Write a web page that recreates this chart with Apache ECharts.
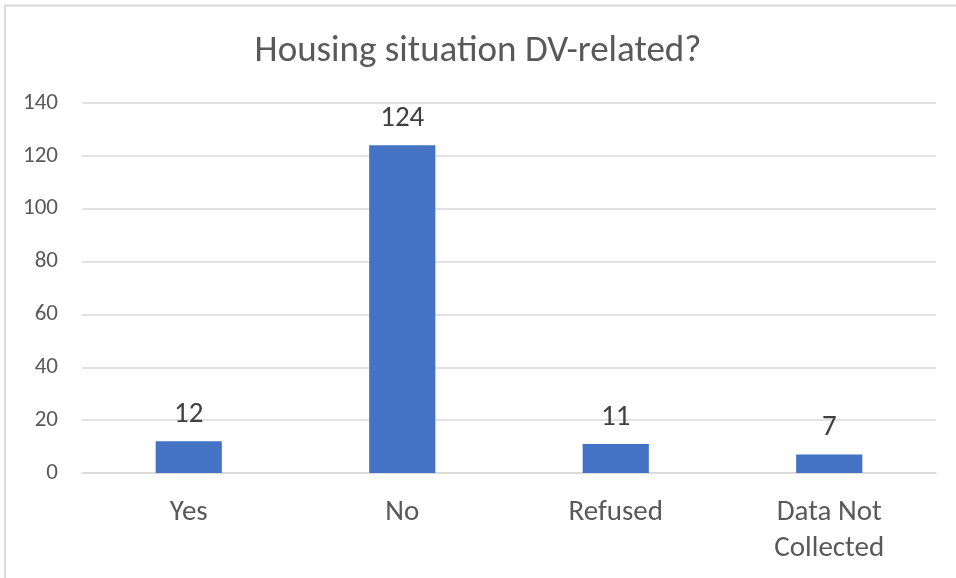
<!DOCTYPE html>
<html>
<head>
<meta charset="utf-8">
<script src="https://cdn.jsdelivr.net/npm/echarts@6/dist/echarts.min.js"></script>
<style>
  html, body { margin: 0; padding: 0; background: #fff; }
  #chart { width: 956px; height: 578px; }
</style>
</head>
<body>
<div id="chart"></div>
<script>
var categories = ['Yes', 'No', 'Refused', 'Data Not\nCollected'];
var counts = [12, 124, 11, 7];
var yTicks = { min: 0, max: 140, interval: 20 };

var myChart = echarts.init(document.getElementById('chart'));
var font = 'Calibri, Carlito, Lato, "Open Sans", sans-serif';
var option = {
  animation: false,
  textStyle: { fontFamily: font },
  title: {
    text: 'Housing situation DV-related?',
    left: 'center',
    top: 28,
    textStyle: { color: '#595959', fontSize: 37, fontWeight: 'normal', fontFamily: font }
  },
  graphic: [{
    type: 'rect',
    shape: { x: 5, y: 5.5, width: 1000, height: 1000 },
    style: { fill: 'none', stroke: '#d9d9d9', lineWidth: 2 },
    silent: true
  }],
  grid: { left: 82, right: 20, top: 103, bottom: 105 },
  xAxis: {
    type: 'category',
    data: categories,
    axisLine: { lineStyle: { color: '#d9d9d9', width: 1.5 } },
    axisTick: { show: false },
    axisLabel: { color: '#595959', fontSize: 29, margin: 22, lineHeight: 36, fontFamily: font }
  },
  yAxis: {
    type: 'value',
    min: yTicks.min,
    max: yTicks.max,
    interval: yTicks.interval,
    axisLine: { show: false },
    axisTick: { show: false },
    splitLine: { lineStyle: { color: '#d9d9d9', width: 1.5 } },
    axisLabel: { color: '#595959', fontSize: 23, margin: 24, fontFamily: font }
  },
  series: [{
    type: 'bar',
    data: counts,
    barWidth: '31%',
    itemStyle: { color: '#4472c4' },
    label: {
      show: true,
      position: 'top',
      distance: 12,
      color: '#404040',
      fontSize: 29,
      fontFamily: font
    }
  }]
};
myChart.setOption(option);
</script>
</body>
</html>
